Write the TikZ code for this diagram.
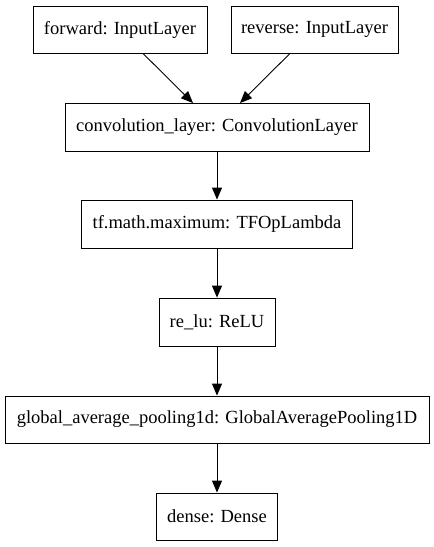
\documentclass[tikz,border=0pt]{standalone}
\usepackage{fontspec}
\setmainfont{Liberation Serif}
\usetikzlibrary{arrows.meta}
\begin{document}
\begin{tikzpicture}[x=1pt,y=-1pt,
  layer/.style={draw,line width=0.9pt,minimum height=47pt,inner sep=0pt,font=\fontsize{18.5}{21}\selectfont},
  arr/.style={line width=0.9pt,-{Triangle[length=12pt,width=10pt]}}]
\useasboundingbox (0,0) rectangle (434,547);
\node[layer,minimum width=174pt] (fwd) at (120,29.5) {forward: InputLayer};
\node[layer,minimum width=167pt] (rev) at (314.5,29.5) {reverse: InputLayer};
\node[layer,minimum width=304pt,minimum height=48pt] (conv) at (217,127.5) {convolution\_layer: ConvolutionLayer};
\node[layer,minimum width=271pt,minimum height=48pt] (tfm) at (217,224) {tf.math.maximum: TFOpLambda};
\node[layer,minimum width=116pt,minimum height=48pt] (relu) at (217,322) {re\_lu: ReLU};
\node[layer,minimum width=424pt] (gap) at (217,419.5) {global\_average\_pooling1d: GlobalAveragePooling1D};
\node[layer,minimum width=121pt] (dense) at (217,516.5) {dense: Dense};
\draw[arr] ([xshift=23pt]fwd.south) -- ([xshift=-24pt]conv.north);
\draw[arr] ([xshift=-24.5pt]rev.south) -- ([xshift=23pt]conv.north);
\draw[arr] (conv) -- (tfm);
\draw[arr] (tfm) -- (relu);
\draw[arr] (relu) -- (gap);
\draw[arr] (gap) -- (dense);
\end{tikzpicture}
\end{document}
